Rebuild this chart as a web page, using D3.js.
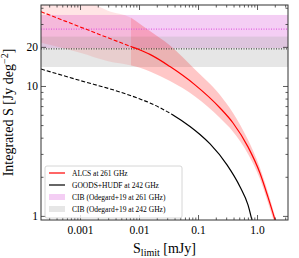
<!DOCTYPE html>
<html>
<head>
<meta charset="utf-8">
<script src="https://cdn.jsdelivr.net/npm/d3@7"></script>
<style>
  body { margin: 0; background: #fff; }
  text { font-family: "Liberation Serif", "DejaVu Serif", serif; fill: #000; }
</style>
</head>
<body>
<div id="chart"></div>
<script>
// ALCS integrated counts at 261 GHz (mJy, Jy/deg^2)
var alcsS  = [2.18e-4, 1e-3, 2.98e-3, 7.32e-3, 0.0104, 0.0153, 0.0335, 0.0889, 0.236, 0.392, 0.703, 1.12, 1.53, 2.02, 2.6];
var alcs   = [37.3, 28.5, 23.5, 20.1, 18.9, 17.5, 14.1, 10.2, 6.77, 5.19, 3.40, 2.14, 1.40, 0.93, 0.63];
var alcsLo = [21.5, 18.0, 15.5, 14.4, 13.8, 12.9, 10.9, 8.3, 5.67, 4.45, 3.00, 1.93, 1.27, 0.85, 0.58];
var alcsHi = [72, 49, 38, 33.5, 30, 26.5, 20.5, 13.4, 8.53, 6.2, 3.85, 2.35, 1.53, 1.00, 0.68];
var alcsMeasuredFrom = 7.32e-3;

// GOODS+HUDF at 242 GHz
var goodsS = [2.18e-4, 1e-3, 4.76e-3, 0.0104, 0.0153, 0.0376, 0.0731, 0.108, 0.160, 0.310, 0.517, 0.703, 0.82, 0.9];
var goods  = [13.5, 11.02, 8.99, 7.94, 7.40, 5.98, 4.88, 4.23, 3.58, 2.47, 1.67, 1.215, 0.93, 0.79];
var goodsMeasuredFrom = 0.0376;

// CIB (Odegard+19)
var cibLabels = ["261 GHz", "242 GHz"];
var cibValue = [27.4, 19.3];
var cibLo    = [19.6, 14.0];
var cibHi    = [35.2, 24.0];

var xTicks = [0.001, 0.01, 0.1, 1];
var xTickLabels = ["0.001", "0.01", "0.1", "1.0"];
var yTicks = [1, 10, 20];
var yTickLabels = ["1", "10", "20"];

// set the dimensions and margins of the graph
var margin = {top: 5, right: 11, bottom: 38, left: 41},
    width = 299 - margin.left - margin.right,
    height = 258 - margin.top - margin.bottom;

var svg = d3.select("#chart")
  .append("svg")
    .attr("width", 299)
    .attr("height", 258)
  .append("g")
    .attr("transform", "translate(" + margin.left + "," + margin.top + ")");

var x = d3.scaleLog().domain([2.18e-4, 3.35]).range([0, width]);
var y = d3.scaleLog().domain([0.93, 42]).range([height, 0]);

var defs = svg.append("defs");
defs.append("clipPath").attr("id", "clip")
  .append("rect").attr("width", width).attr("height", height);

// clip regions left / right of a split flux
function splitClips(id, s) {
  defs.append("clipPath").attr("id", id + "-l")
    .append("rect").attr("x", 0).attr("width", x(s)).attr("height", height);
  defs.append("clipPath").attr("id", id + "-r")
    .append("rect").attr("x", x(s)).attr("width", width - x(s)).attr("height", height);
}
splitClips("alcs", alcsMeasuredFrom);
splitClips("goods", goodsMeasuredFrom);

var plot = svg.append("g").attr("clip-path", "url(#clip)");

// CIB bands
var cibFill = ["#e27de2", "#b4b4b4"];
var cibLine = ["#dd44dd", "#222"];
cibValue.forEach(function(v, i) {
  plot.append("rect")
    .attr("x", 0).attr("width", width)
    .attr("y", y(cibHi[i]))
    .attr("height", y(cibLo[i]) - y(cibHi[i]))
    .attr("fill", cibFill[i])
    .attr("fill-opacity", i == 0 ? 0.38 : 0.33);
});

// ALCS uncertainty band: fainter where extrapolated
var rows = alcsS.map(function(s, i) { return {s: s, v: alcs[i], lo: alcsLo[i], hi: alcsHi[i]}; });
var area = d3.area()
  .x(function(d) { return x(d.s); })
  .y0(function(d) { return y(d.lo); })
  .y1(function(d) { return y(d.hi); })
  .curve(d3.curveMonotoneX);

plot.append("g").attr("clip-path", "url(#alcs-l)")
  .append("path").datum(rows)
  .attr("d", area).attr("fill", "#ff0000").attr("fill-opacity", 0.1);
plot.append("g").attr("clip-path", "url(#alcs-r)")
  .append("path").datum(rows)
  .attr("d", area).attr("fill", "#ff0000").attr("fill-opacity", 0.22);

// CIB centre lines
cibValue.forEach(function(v, i) {
  plot.append("line")
    .attr("x1", 0).attr("x2", width)
    .attr("y1", y(v)).attr("y2", y(v))
    .attr("stroke", cibLine[i]).attr("stroke-width", 1)
    .attr("stroke-dasharray", "1,1.5");
});

var line = d3.line()
  .x(function(d) { return x(d.s); })
  .y(function(d) { return y(d.v); })
  .curve(d3.curveMonotoneX);

// dashed where extrapolated, solid where measured
function drawCurve(id, sArr, vArr, color) {
  var pts = sArr.map(function(s, i) { return {s: s, v: vArr[i]}; });
  plot.append("g").attr("clip-path", "url(#" + id + "-l)")
    .append("path").datum(pts)
    .attr("d", line).attr("fill", "none")
    .attr("stroke", color).attr("stroke-width", 1.1)
    .attr("stroke-dasharray", "4,2");
  plot.append("g").attr("clip-path", "url(#" + id + "-r)")
    .append("path").datum(pts)
    .attr("d", line).attr("fill", "none")
    .attr("stroke", color).attr("stroke-width", 1.2);
}
drawCurve("goods", goodsS, goods, "#000");
drawCurve("alcs", alcsS, alcs, "#ff0000");

// minor tick values
var xMinor = [], yMinor = [];
[-4, -3, -2, -1, 0].forEach(function(e) {
  for (var k = 2; k <= 9; k++) { var t = k * Math.pow(10, e); if (t > 2.18e-4 && t < 3.35) xMinor.push(t); }
});
[0, 1].forEach(function(e) {
  for (var k = 2; k <= 9; k++) { var t = k * Math.pow(10, e); if (t < 42 && t != 20) yMinor.push(t); }
});

function styleAxis(g) {
  g.selectAll(".domain").remove();
  g.selectAll("line").attr("stroke", "#333").attr("stroke-width", 0.8);
  g.selectAll("text").style("font-size", "11.5px").style("font-family", "Liberation Serif");
}

// axes: ticks point inwards on all four sides
svg.append("g").attr("transform", "translate(0," + height + ")")
  .call(d3.axisBottom(x).tickValues(xTicks).tickSize(-5).tickPadding(6)
    .tickFormat(function(d, i) { return xTickLabels[i]; }))
  .call(styleAxis);
svg.append("g").attr("transform", "translate(0," + height + ")")
  .call(d3.axisBottom(x).tickValues(xMinor).tickSize(-2.5).tickFormat(""))
  .call(styleAxis);
svg.append("g")
  .call(d3.axisTop(x).tickValues(xTicks).tickSize(-5).tickFormat(""))
  .call(styleAxis);
svg.append("g")
  .call(d3.axisTop(x).tickValues(xMinor).tickSize(-2.5).tickFormat(""))
  .call(styleAxis);

svg.append("g")
  .call(d3.axisLeft(y).tickValues(yTicks).tickSize(-5).tickPadding(3)
    .tickFormat(function(d, i) { return yTickLabels[i]; }))
  .call(styleAxis);
svg.append("g")
  .call(d3.axisLeft(y).tickValues(yMinor).tickSize(-2.5).tickFormat(""))
  .call(styleAxis);
svg.append("g").attr("transform", "translate(" + width + ",0)")
  .call(d3.axisRight(y).tickValues(yTicks).tickSize(-5).tickFormat(""))
  .call(styleAxis);
svg.append("g").attr("transform", "translate(" + width + ",0)")
  .call(d3.axisRight(y).tickValues(yMinor).tickSize(-2.5).tickFormat(""))
  .call(styleAxis);

svg.append("rect")
  .attr("width", width).attr("height", height)
  .attr("fill", "none").attr("stroke", "#333").attr("stroke-width", 1);

// axis labels
var xl = svg.append("text")
  .attr("x", width / 2).attr("y", height + 33)
  .attr("text-anchor", "middle")
  .style("font-size", "14px");
xl.append("tspan").text("S");
xl.append("tspan").attr("dy", 3).style("font-size", "10px").text("limit");
xl.append("tspan").attr("dy", -3).text(" [mJy]");

var yl = svg.append("text")
  .attr("transform", "translate(" + (-28) + "," + (height / 2) + ")rotate(-90)")
  .attr("text-anchor", "middle")
  .style("font-size", "14px");
yl.append("tspan").text("Integrated S [Jy deg");
yl.append("tspan").attr("dy", -5).style("font-size", "10px").text("\u22122");
yl.append("tspan").attr("dy", 5).text("]");

// legend
var leg = svg.append("g").attr("transform", "translate(4,161)");
leg.append("rect")
  .attr("width", 137).attr("height", 52).attr("rx", 2)
  .attr("fill", "#fff").attr("fill-opacity", 0.8)
  .attr("stroke", "#ccc").attr("stroke-width", 0.8);
var legItems = [
  {label: "ALCS at 261 GHz", type: "line", color: "#ff0000"},
  {label: "GOODS+HUDF at 242 GHz", type: "line", color: "#000"},
  {label: "CIB (Odegard+19 at " + cibLabels[0] + ")", type: "patch", color: "#e27de2", op: 0.38},
  {label: "CIB (Odegard+19 at " + cibLabels[1] + ")", type: "patch", color: "#b4b4b4", op: 0.33}
];
legItems.forEach(function(d, i) {
  var yy = 7 + i * 12;
  if (d.type == "line") {
    leg.append("line").attr("x1", 4).attr("x2", 20).attr("y1", yy).attr("y2", yy)
      .attr("stroke", d.color).attr("stroke-width", 1.2);
  } else {
    leg.append("rect").attr("x", 4).attr("y", yy - 3).attr("width", 16).attr("height", 6)
      .attr("fill", d.color).attr("fill-opacity", d.op);
  }
  leg.append("text").attr("x", 27).attr("y", yy + 2.5)
    .style("font-size", "7.5px").text(d.label);
});
</script>
</body>
</html>
